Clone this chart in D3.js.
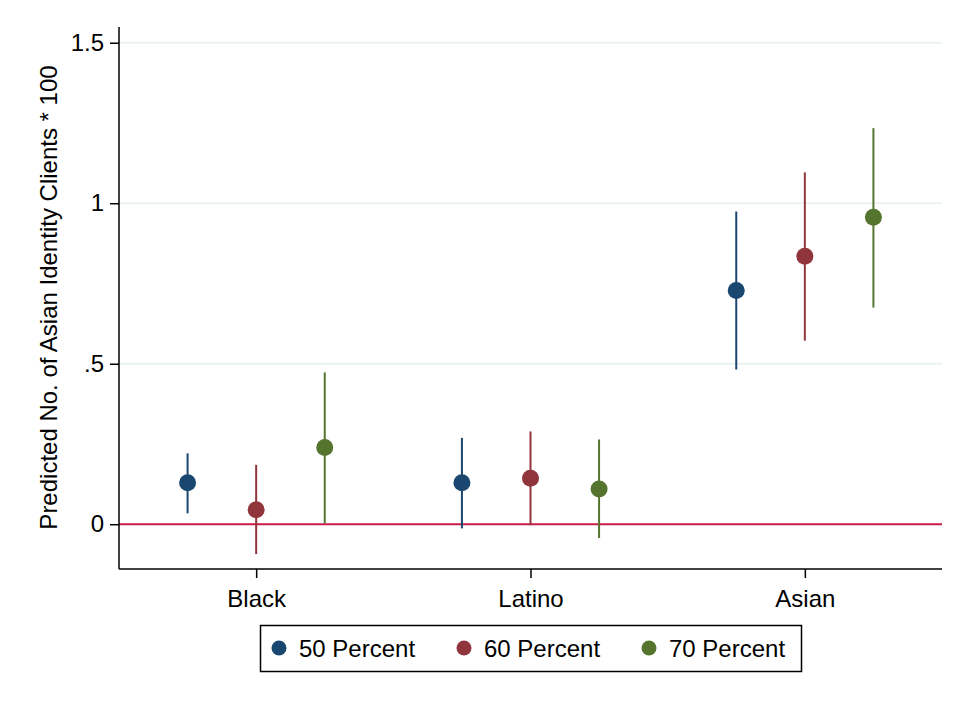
<!DOCTYPE html>
<html>
<head>
<meta charset="utf-8">
<script src="https://cdn.jsdelivr.net/npm/d3@7"></script>
<style>
  html, body { margin: 0; padding: 0; background: #fff; }
  svg { display: block; font-family: "Liberation Sans", Arial, sans-serif; }
</style>
</head>
<body>
<svg id="chart" width="959" height="706"></svg>
<script>
const categories = ["Black", "Latino", "Asian"];
const seriesNames = ["50 Percent", "60 Percent", "70 Percent"];
const seriesColors = ["#1a476f", "#90353b", "#55752f"];
// point estimates [series][category]
const estimates = [
  [0.129, 0.129, 0.728],
  [0.045, 0.143, 0.835],
  [0.239, 0.110, 0.956]
];
const lowerCI = [
  [0.034, -0.013, 0.482],
  [-0.093, -0.003, 0.572],
  [0.003, -0.043, 0.675]
];
const upperCI = [
  [0.221, 0.269, 0.974],
  [0.185, 0.289, 1.096],
  [0.473, 0.264, 1.234]
];
const yTicks = [0, 0.5, 1, 1.5];
const yTickLabels = ["0", ".5", "1", "1.5"];
const yTitle = "Predicted No. of Asian Identity Clients * 100";

const svg = d3.select("#chart");
const pLeft = 119, pRight = 942, pTop = 27, pBottom = 569;

const x = d3.scaleLinear().domain([0.5, 3.5]).range([pLeft, pRight]);
const y = d3.scaleLinear().domain([-0.1395, 1.549]).range([pBottom, pTop]);
const offsets = [-0.25, 0, 0.25];

// gridlines
svg.append("g").selectAll("line").data(yTicks.filter(t => t !== 0)).join("line")
  .attr("x1", pLeft).attr("x2", pRight)
  .attr("y1", d => y(d)).attr("y2", d => y(d))
  .attr("stroke", "#eaf2f3").attr("stroke-width", 2);

// zero reference line
svg.append("line")
  .attr("x1", pLeft).attr("x2", pRight)
  .attr("y1", y(0)).attr("y2", y(0))
  .attr("stroke", "#cd1a4a").attr("stroke-width", 2);

// y axis
const yAxis = d3.axisLeft(y).tickValues(yTicks)
  .tickFormat((d, i) => yTickLabels[i]).tickSize(9).tickPadding(6);
const gy = svg.append("g").attr("transform", `translate(${pLeft},0)`).call(yAxis);
gy.select(".domain").attr("d", `M0,${pTop}V${pBottom}`).attr("stroke", "#000").attr("stroke-width", 1.5);
gy.selectAll(".tick line").attr("stroke", "#000").attr("stroke-width", 1.5);
gy.selectAll(".tick text").attr("font-size", 24).attr("fill", "#000")
  .attr("font-family", "Liberation Sans, Arial, sans-serif");

// x axis
const xAxis = d3.axisBottom(x).tickValues([1, 2, 3])
  .tickFormat((d, i) => categories[i]).tickSize(9).tickPadding(12);
const gx = svg.append("g").attr("transform", `translate(0,${pBottom})`).call(xAxis);
gx.select(".domain").attr("d", `M${pLeft},0H${pRight}`).attr("stroke", "#000").attr("stroke-width", 1.5);
gx.selectAll(".tick line").attr("stroke", "#000").attr("stroke-width", 1.5);
gx.selectAll(".tick text").attr("font-size", 24).attr("fill", "#000")
  .attr("font-family", "Liberation Sans, Arial, sans-serif");

// y title
svg.append("text")
  .attr("transform", `translate(57,297.5) rotate(-90)`)
  .attr("text-anchor", "middle")
  .attr("font-size", 24)
  .attr("fill", "#000")
  .text(yTitle);

// error bars and points
seriesNames.forEach((name, s) => {
  const g = svg.append("g");
  const data = categories.map((c, i) => ({
    xv: i + 1 + offsets[s], est: estimates[s][i], lo: lowerCI[s][i], hi: upperCI[s][i]
  }));
  g.selectAll("line").data(data).join("line")
    .attr("x1", d => x(d.xv)).attr("x2", d => x(d.xv))
    .attr("y1", d => y(d.lo)).attr("y2", d => y(d.hi))
    .attr("stroke", seriesColors[s]).attr("stroke-width", 2);
  g.selectAll("circle").data(data).join("circle")
    .attr("cx", d => x(d.xv)).attr("cy", d => y(d.est))
    .attr("r", 8.5).attr("fill", seriesColors[s]);
});

// legend
const legend = svg.append("g");
legend.append("rect")
  .attr("x", 260.5).attr("y", 625.5).attr("width", 541).attr("height", 46)
  .attr("fill", "#fff").attr("stroke", "#000").attr("stroke-width", 1.5);
const legX = [279, 464, 649];
seriesNames.forEach((name, s) => {
  legend.append("circle").attr("cx", legX[s]).attr("cy", 648).attr("r", 7.5)
    .attr("fill", seriesColors[s]);
  legend.append("text").attr("x", legX[s] + 20).attr("y", 656.5)
    .attr("font-size", 24).attr("fill", "#000").text(name);
});
</script>
</body>
</html>
